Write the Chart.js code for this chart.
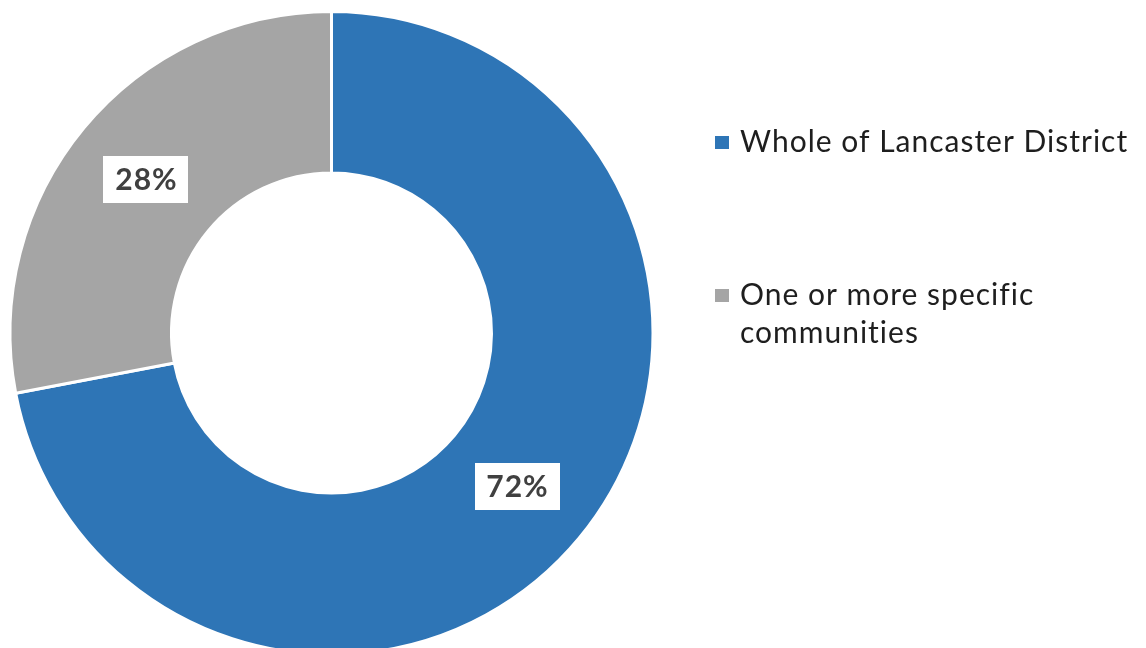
<!DOCTYPE html>
<html>
<head>
<meta charset="utf-8">
<script src="https://cdn.jsdelivr.net/npm/chart.js@4/dist/chart.umd.min.js"></script>
<style>
html,body{margin:0;padding:0;background:#fff;overflow:hidden;}
#wrap{position:absolute;left:0;top:0;width:1146px;height:670px;}
</style>
</head>
<body>
<div id="wrap"><canvas id="c" width="1146" height="670"></canvas></div>
<script>
const categories = ["Whole of Lancaster District", "One or more specific communities"];
const values = [72, 28];
const colors = ["#2E75B6", "#A5A5A5"];

const FONT = "Lato, 'Open Sans', sans-serif";

const valueLabels = {
  id: 'valueLabels',
  afterDatasetsDraw(chart) {
    const ctx = chart.ctx;
    const meta = chart.getDatasetMeta(0);
    ctx.save();
    meta.data.forEach((arc, i) => {
      const p = arc.tooltipPosition();
      const txt = values[i] + '%';
      const w = 85, h = 47;
      ctx.fillStyle = '#ffffff';
      ctx.fillRect(Math.round(p.x - w/2), Math.round(p.y - h/2), w, h);
      ctx.fillStyle = '#404040';
      ctx.font = "bold 30px " + FONT;
      if ('letterSpacing' in ctx) ctx.letterSpacing = '1px';
      ctx.textAlign = 'center';
      ctx.textBaseline = 'middle';
      ctx.fillText(txt, p.x + 0.5, p.y + 1);
    });
    ctx.restore();
  }
};

function wrapText(ctx, text, maxW) {
  const words = text.split(' ');
  const lines = [];
  let cur = '';
  words.forEach(wd => {
    const t = cur ? cur + ' ' + wd : wd;
    if (ctx.measureText(t).width > maxW && cur) { lines.push(cur); cur = wd; }
    else cur = t;
  });
  if (cur) lines.push(cur);
  return lines;
}

const sideLegend = {
  id: 'sideLegend',
  afterDraw(chart) {
    const ctx = chart.ctx;
    ctx.save();
    ctx.font = "30px " + FONT;
    if ('letterSpacing' in ctx) ctx.letterSpacing = '1px';
    ctx.textBaseline = 'alphabetic';
    ctx.textAlign = 'left';
    const baselines = [152, 305];
    categories.forEach((cat, i) => {
      const y = baselines[i];
      ctx.fillStyle = colors[i];
      ctx.fillRect(715, y - 16, 14, 13);
      ctx.fillStyle = '#1e1e1e';
      const lines = wrapText(ctx, cat, 400);
      lines.forEach((ln, j) => ctx.fillText(ln, 740, y + j * 38));
    });
    ctx.restore();
  }
};

new Chart(document.getElementById('c'), {
  type: 'doughnut',
  data: {
    labels: categories,
    datasets: [{
      data: values,
      backgroundColor: colors,
      borderColor: '#ffffff',
      borderWidth: 3,
      hoverOffset: 0
    }]
  },
  options: {
    responsive: false,
    animation: false,
    cutout: 160,
    layout: { padding: { left: 8.5, right: 491.5, top: 10, bottom: 14 } },
    plugins: {
      legend: { display: false },
      tooltip: { enabled: false }
    }
  },
  plugins: [valueLabels, sideLegend]
});
</script>
</body>
</html>
